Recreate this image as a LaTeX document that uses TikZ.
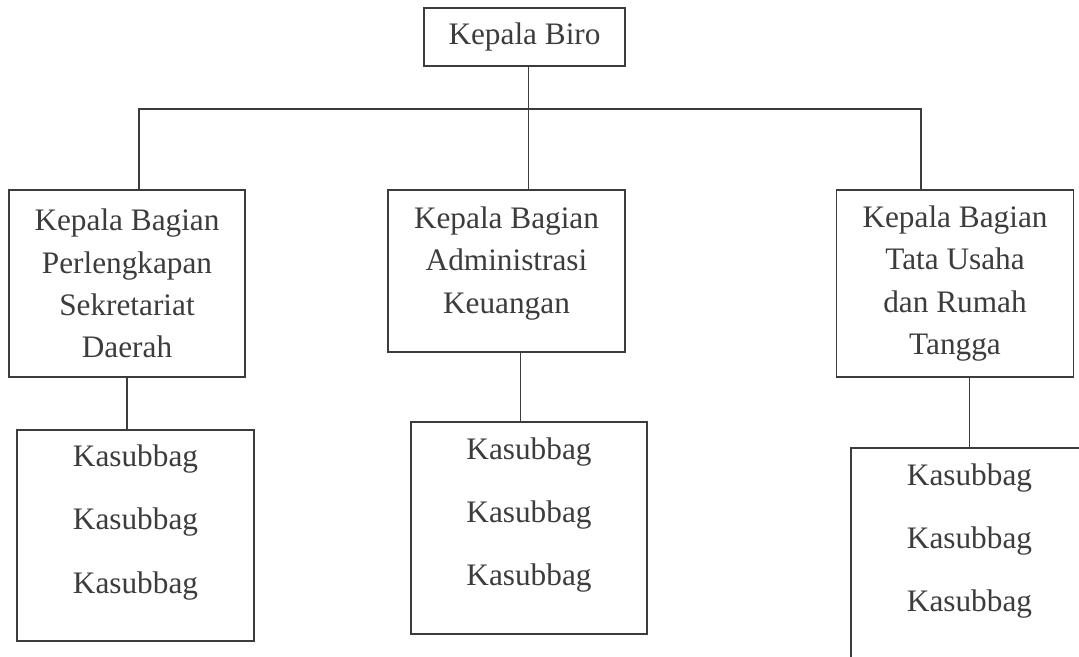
\documentclass[tikz,border=0pt]{standalone}
\usepackage{fontspec}
\setmainfont{Liberation Serif}
\usepackage{tikz}
\usetikzlibrary{positioning, calc}
\definecolor{inkgray}{HTML}{3C3C3C}

\begin{document}
\begin{tikzpicture}[font=\fontsize{17.8}{24.1}\selectfont,
    box/.style={draw=inkgray, line width=0.75pt, inner sep=0pt, text=inkgray},
    boxtext/.style={align=center, inner sep=0pt, text=inkgray},
    sublist/.style={align=center, inner sep=0pt, text=inkgray, font=\fontsize{17.8}{36}\selectfont},
    link/.style={draw=inkgray, line width=0.75pt}]
  \useasboundingbox (0,0) rectangle (21.58,-13.12);
  \clip (0,0) rectangle (21.58,-13.12);
  \node[box, minimum width=4.02cm, minimum height=1.16cm] (biro) at (10.49,-0.74) {Kepala Biro};
  \node[box, align=center, minimum width=4.72cm, minimum height=3.74cm] (kb1) at (2.54,-5.67) {Kepala Bagian\\Perlengkapan\\Sekretariat\\Daerah};
  \node[box, minimum width=4.74cm, minimum height=3.24cm] (kb2) at (10.13,-5.42) {};
  \node[boxtext, yshift=0.15cm] (kb2text) at (kb2) {Kepala Bagian\\Administrasi\\Keuangan};
  \node[box, align=center, minimum width=4.73cm, minimum height=3.74cm] (kb3) at (19.10,-5.67) {Kepala Bagian\\Tata Usaha\\dan Rumah\\Tangga};
  \node[box, minimum width=4.74cm, minimum height=4.22cm] (sub1) at (2.71,-10.71) {};
  \node[sublist, yshift=0.26cm] (sub1text) at (sub1) {Kasubbag\\Kasubbag\\Kasubbag};
  \node[box, minimum width=4.72cm, minimum height=4.24cm] (sub2) at (10.58,-10.56) {};
  \node[sublist, yshift=0.26cm] (sub2text) at (sub2) {Kasubbag\\Kasubbag\\Kasubbag};
  \node[box, minimum width=4.74cm, minimum height=4.24cm] (sub3) at (19.39,-11.08) {};
  \node[sublist, yshift=0.26cm] (sub3text) at (sub3) {Kasubbag\\Kasubbag\\Kasubbag};
  \coordinate (drop1) at (2.78,-2.18);
  \coordinate (drop3) at (18.42,-2.18);
  \draw[link] ([xshift=0.08cm]biro.south) -- ([xshift=0.08cm]biro.south |- kb2.north);
  \draw[link] (drop1 |- kb1.north) -- (drop1) -- (drop3) -- (drop3 |- kb3.north);
  \draw[link] (kb1.south) -- (kb1.south |- sub1.north);
  \draw[link] ([xshift=0.28cm]kb2.south) -- ([xshift=0.28cm]kb2.south |- sub2.north);
  \draw[link] (sub3.north |- kb3.south) -- (sub3.north);
\end{tikzpicture}
\end{document}
